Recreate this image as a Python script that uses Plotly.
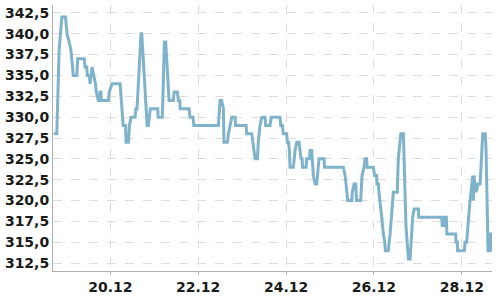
import plotly.graph_objects as go

times = [
    "2023-12-18 17:00", "2023-12-18 18:45", "2023-12-18 20:00", "2023-12-18 21:00", "2023-12-18 21:30",
    "2023-12-18 23:30", "2023-12-19 00:20", "2023-12-19 01:30", "2023-12-19 02:30", "2023-12-19 03:45",
    "2023-12-19 05:40", "2023-12-19 06:10", "2023-12-19 09:45", "2023-12-19 10:10", "2023-12-19 11:05",
    "2023-12-19 11:25", "2023-12-19 12:30", "2023-12-19 12:55", "2023-12-19 14:00", "2023-12-19 14:55",
    "2023-12-19 15:50", "2023-12-19 16:20", "2023-12-19 17:25", "2023-12-19 18:05", "2023-12-19 18:25",
    "2023-12-19 18:50", "2023-12-19 19:10", "2023-12-19 22:55", "2023-12-19 23:25", "2023-12-20 00:55",
    "2023-12-20 05:20", "2023-12-20 07:00", "2023-12-20 08:20", "2023-12-20 08:35", "2023-12-20 09:55",
    "2023-12-20 10:25", "2023-12-20 11:20", "2023-12-20 13:30", "2023-12-20 14:00", "2023-12-20 14:35",
    "2023-12-20 16:45", "2023-12-20 17:10", "2023-12-20 20:05", "2023-12-20 20:45", "2023-12-20 21:10",
    "2023-12-20 21:50", "2023-12-21 01:55", "2023-12-21 02:05", "2023-12-21 04:25", "2023-12-21 05:30",
    "2023-12-21 06:15", "2023-12-21 08:05", "2023-12-21 10:25", "2023-12-21 10:50", "2023-12-21 12:35",
    "2023-12-21 13:10", "2023-12-21 13:55", "2023-12-21 14:10", "2023-12-21 19:00", "2023-12-21 19:30",
    "2023-12-21 21:10", "2023-12-21 21:35", "2023-12-22 11:00", "2023-12-22 11:55", "2023-12-22 12:50",
    "2023-12-22 13:45", "2023-12-22 14:05", "2023-12-22 15:55", "2023-12-22 16:30", "2023-12-22 17:25",
    "2023-12-22 18:20", "2023-12-22 20:10", "2023-12-22 20:25", "2023-12-23 02:10", "2023-12-23 02:30",
    "2023-12-23 05:15", "2023-12-23 05:50", "2023-12-23 06:30", "2023-12-23 07:05", "2023-12-23 08:20",
    "2023-12-23 08:50", "2023-12-23 09:45", "2023-12-23 10:45", "2023-12-23 12:30", "2023-12-23 12:50",
    "2023-12-23 15:15", "2023-12-23 15:55", "2023-12-23 20:40", "2023-12-23 21:05", "2023-12-23 22:00",
    "2023-12-23 22:30", "2023-12-24 00:20", "2023-12-24 00:40", "2023-12-24 01:20", "2023-12-24 01:50",
    "2023-12-24 02:10", "2023-12-24 04:00", "2023-12-24 04:55", "2023-12-24 05:50", "2023-12-24 07:05",
    "2023-12-24 07:40", "2023-12-24 08:10", "2023-12-24 08:45", "2023-12-24 09:00", "2023-12-24 10:55",
    "2023-12-24 11:15", "2023-12-24 12:50", "2023-12-24 13:05", "2023-12-24 14:00", "2023-12-24 14:20",
    "2023-12-24 14:55", "2023-12-24 15:50", "2023-12-24 16:45", "2023-12-24 17:10", "2023-12-24 18:00",
    "2023-12-24 20:45", "2023-12-24 21:00", "2023-12-25 07:15", "2023-12-25 08:15", "2023-12-25 08:45",
    "2023-12-25 09:20", "2023-12-25 09:40", "2023-12-25 11:55", "2023-12-25 12:10", "2023-12-25 13:10",
    "2023-12-25 14:05", "2023-12-25 14:30", "2023-12-25 16:45", "2023-12-25 17:30", "2023-12-25 18:35",
    "2023-12-25 19:10", "2023-12-25 20:00", "2023-12-25 20:15", "2023-12-25 23:40", "2023-12-26 00:20",
    "2023-12-26 01:25", "2023-12-26 01:40", "2023-12-26 02:25", "2023-12-26 02:45", "2023-12-26 03:20",
    "2023-12-26 04:15", "2023-12-26 05:10", "2023-12-26 05:55", "2023-12-26 06:15", "2023-12-26 07:50",
    "2023-12-26 08:50", "2023-12-26 09:45", "2023-12-26 10:15", "2023-12-26 10:35", "2023-12-26 12:45",
    "2023-12-26 13:00", "2023-12-26 13:20", "2023-12-26 14:40", "2023-12-26 16:05", "2023-12-26 17:30",
    "2023-12-26 18:15", "2023-12-26 18:50", "2023-12-26 19:45", "2023-12-26 20:40", "2023-12-26 21:10",
    "2023-12-26 21:55", "2023-12-27 00:15", "2023-12-27 00:30", "2023-12-27 13:00", "2023-12-27 13:20",
    "2023-12-27 14:20", "2023-12-27 14:35", "2023-12-27 15:35", "2023-12-27 15:50", "2023-12-27 20:40",
    "2023-12-27 20:50", "2023-12-27 21:35", "2023-12-27 21:45", "2023-12-28 01:25", "2023-12-28 01:45",
    "2023-12-28 02:40", "2023-12-28 03:00", "2023-12-28 03:35", "2023-12-28 04:00", "2023-12-28 04:30",
    "2023-12-28 06:00", "2023-12-28 06:20", "2023-12-28 06:40", "2023-12-28 07:15", "2023-12-28 07:50",
    "2023-12-28 08:55", "2023-12-28 10:00", "2023-12-28 10:30", "2023-12-28 11:25", "2023-12-28 12:50",
    "2023-12-28 13:15", "2023-12-28 14:00", "2023-12-28 14:20", "2023-12-28 15:25", "2023-12-28 15:35",
    "2023-12-28 16:15", "2023-12-28 16:20",
]

prices = [
    328, 328, 338, 341, 342,
    342, 340, 339, 338, 335,
    335, 337, 337, 336, 336,
    335, 335, 334, 336, 335,
    334, 333, 332, 332, 333,
    333, 332, 332, 333, 334,
    334, 329, 329, 327, 327,
    329, 330, 330, 331, 331,
    340, 340, 329, 329, 330,
    331, 331, 330, 330, 339,
    339, 332, 332, 333, 333,
    332, 332, 331, 331, 330,
    330, 329, 329, 332, 332,
    331, 327, 327, 328, 329,
    330, 330, 329, 329, 328,
    328, 327, 326, 325, 325,
    327, 329, 330, 330, 329,
    329, 330, 330, 329, 329,
    328, 328, 327, 327, 326,
    324, 324, 326, 327, 327,
    326, 325, 325, 324, 324,
    325, 325, 326, 326, 325,
    323, 322, 322, 323, 325,
    325, 324, 324, 323, 322,
    321, 320, 320, 321, 322,
    322, 320, 320, 323, 324,
    325, 325, 324, 324, 323,
    323, 322, 322, 321, 320,
    318, 316, 315, 314, 314,
    316, 318, 320, 321, 321,
    323, 325, 328, 328, 317,
    314, 313, 313, 316, 318,
    319, 319, 318, 318, 317,
    317, 318, 318, 316, 316,
    315, 315, 314, 314, 315,
    315, 316, 318, 319, 320,
    323, 320, 323, 322, 321,
    322, 322, 324, 328, 328,
    326, 318, 314, 314, 316,
    316, 314,
]

y_ticks = [312.5, 315.0, 317.5, 320.0, 322.5, 325.0, 327.5, 330.0, 332.5, 335.0, 337.5, 340.0, 342.5]
x_ticks = ["2023-12-20", "2023-12-22", "2023-12-24", "2023-12-26", "2023-12-28"]

fig = go.Figure()
fig.add_trace(go.Scatter(
    x=times, y=prices, mode="lines",
    line=dict(color="#7fb3cc", width=3),
    hoverinfo="skip", showlegend=False,
))

tick_font = dict(family="DejaVu Sans", size=14, color="#1a1a1a", weight="bold")

fig.update_layout(
    width=500, height=300,
    margin=dict(l=53, r=8, t=5, b=23),
    paper_bgcolor="white", plot_bgcolor="white",
    separators=",.",
    showlegend=False,
    xaxis=dict(
        range=["2023-12-18 16:40", "2023-12-28 16:30"],
        tickvals=x_ticks, tickformat="%d.%m",
        showgrid=True, gridcolor="#dddddd", griddash="dash", gridwidth=1,
        showline=True, linecolor="#b0b0b0", linewidth=1,
        ticks="outside", ticklen=3, tickcolor="#b0b0b0",
        tickfont=tick_font, zeroline=False,
    ),
    yaxis=dict(
        range=[311.56, 343.44],
        tickvals=y_ticks, tickformat=".1f",
        showgrid=True, gridcolor="#dddddd", griddash="dash", gridwidth=1,
        showline=True, linecolor="#b0b0b0", linewidth=1,
        ticks="", tickfont=tick_font, zeroline=False,
    ),
)

fig.write_html("out.html")
